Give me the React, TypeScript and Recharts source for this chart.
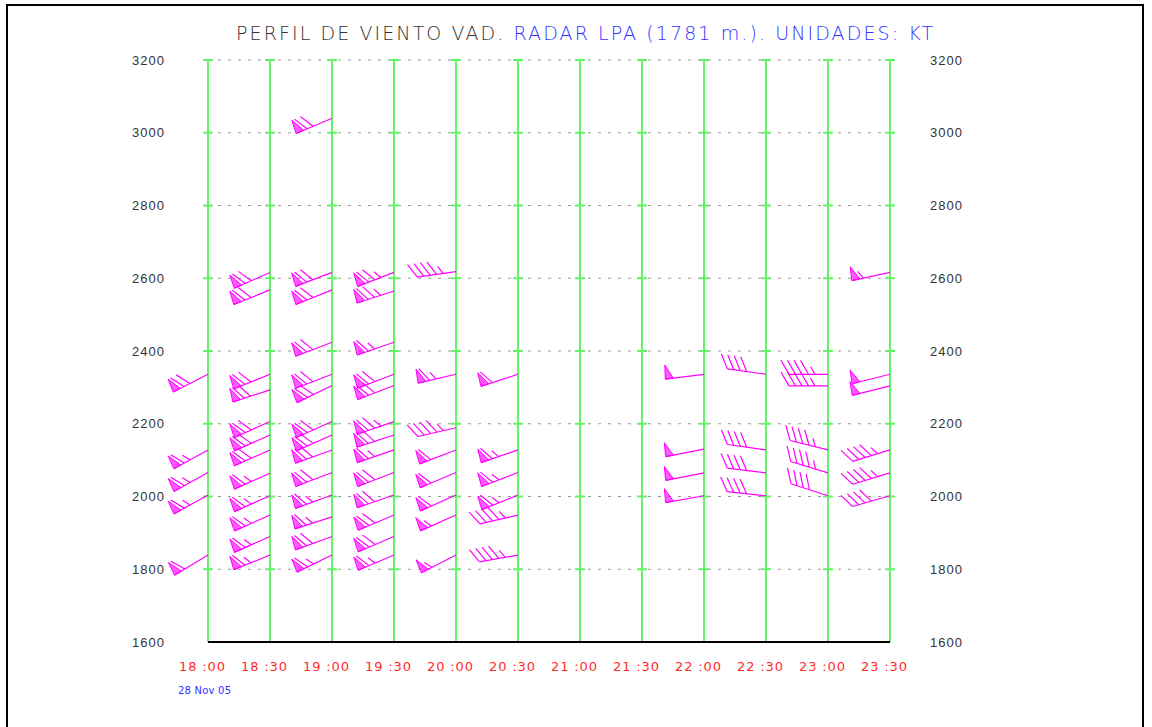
import React from "react";
import { ScatterChart, Scatter, XAxis, YAxis, CartesianGrid, ReferenceLine } from "recharts";

// time axis: one slot every 30 min
const TIME_LABELS = ["18 :00", "18 :30", "19 :00", "19 :30", "20 :00", "20 :30", "21 :00", "21 :30", "22 :00", "22 :30", "23 :00", "23 :30"];
const TIME_TICKS = TIME_LABELS.map((_, i) => i);
const HEIGHT_TICKS = [1600, 1800, 2000, 2200, 2400, 2600, 2800, 3000, 3200];

// [height m, direction deg, speed kt] for every VAD level, per time slot
const C1800 = [[2336, 243, 70], [2128, 241, 65], [2066, 241, 65], [2004, 241, 65], [1839, 239, 60]];
const C1830 = [[2616, 246, 70], [2568, 248, 70], [2336, 248, 70], [2293, 252, 70], [2206, 246, 70], [2169, 246, 70], [2128, 246, 70], [2064, 246, 65], [2002, 246, 65], [1949, 246, 65], [1890, 246, 65], [1839, 248, 65]];
const C1900 = [[3040, 247, 70], [2616, 249, 70], [2568, 248, 70], [2424, 249, 70], [2336, 249, 70], [2305, 244, 70], [2206, 246, 70], [2169, 246, 70], [2128, 250, 70], [2066, 249, 70], [2004, 250, 65], [1944, 252, 65], [1890, 250, 70], [1839, 244, 65]];
const C1930 = [[2616, 249, 75], [2565, 252, 75], [2424, 251, 65], [2336, 249, 70], [2305, 249, 70], [2206, 251, 75], [2169, 252, 70], [2128, 251, 65], [2066, 249, 70], [2004, 251, 70], [1949, 247, 70], [1890, 247, 70], [1839, 247, 65]];
const C2000 = [[2618, 262, 45], [2336, 257, 65], [2189, 257, 45], [2128, 249, 60], [2066, 247, 60], [2004, 246, 60], [1949, 246, 55], [1839, 243, 55]];
const C2030 = [[2336, 252, 60], [2128, 251, 65], [2066, 249, 65], [2004, 248, 65], [1949, 257, 45], [1839, 260, 45]];
const C2200 = [[2336, 263, 50], [2130, 259, 50], [2065, 259, 50], [2002, 260, 50]];
const C2230 = [[2336, 278, 40], [2128, 278, 40], [2065, 277, 40], [2002, 276, 40]];
const C2300 = [[2336, 270, 45], [2304, 270, 45], [2128, 284, 45], [2065, 287, 45], [2002, 288, 40]];
const C2330 = [[2616, 258, 55], [2336, 256, 50], [2304, 256, 50], [2128, 253, 45], [2065, 253, 45], [2002, 254, 40]];

const COLUMNS: [number, number[][]][] = [
  [0, C1800], [1, C1830], [2, C1900], [3, C1930], [4, C2000], [5, C2030],
  [8, C2200], [9, C2230], [10, C2300], [11, C2330],
];

const barbs = COLUMNS.flatMap(([t, rows]) => rows.map(([h, dir, spd]) => ({ t, h, dir, spd })));

const MAG = "#ff00ff";

function Barb(props: any) {
  const { cx, cy, payload } = props;
  if (cx == null || cy == null) return null;
  const rad = (payload.dir * Math.PI) / 180;
  const ux = Math.sin(rad);
  const uy = -Math.cos(rad);
  const L = 39;
  const rot = (deg: number) => {
    const a = (deg * Math.PI) / 180;
    return [ux * Math.cos(a) - uy * Math.sin(a), ux * Math.sin(a) + uy * Math.cos(a)];
  };
  const [fx, fy] = rot(60);
  const [px, py] = rot(95);
  const P = (s: number) => [cx + ux * s, cy + uy * s];
  const parts: React.ReactNode[] = [];
  const [tx, ty] = P(L);
  parts.push(<line key="staff" x1={cx} y1={cy} x2={tx} y2={ty} stroke={MAG} strokeWidth={1.2} />);
  let spd = payload.spd;
  let s = L;
  let k = 0;
  while (spd >= 50) {
    const [ax, ay] = P(s);
    const [bx, by] = P(s - 8);
    const pts = `${ax},${ay} ${ax + px * 14},${ay + py * 14} ${bx},${by}`;
    parts.push(<polygon key={"p" + k++} points={pts} fill={MAG} fillOpacity={0.65} stroke={MAG} strokeWidth={1} />);
    s -= 12;
    spd -= 50;
  }
  while (spd >= 10) {
    const [ax, ay] = P(s);
    parts.push(<line key={"f" + k++} x1={ax} y1={ay} x2={ax + fx * 16} y2={ay + fy * 16} stroke={MAG} strokeWidth={1.2} />);
    s -= 6.5;
    spd -= 10;
  }
  if (spd >= 5) {
    const [ax, ay] = P(s);
    parts.push(<line key={"h" + k++} x1={ax} y1={ay} x2={ax + fx * 9} y2={ay + fy * 9} stroke={MAG} strokeWidth={1.2} />);
  }
  return <g>{parts}</g>;
}

const XTick = (props: any) => {
  const { x, y, payload } = props;
  return (
    <text x={x - 6} y={y} dy="0.71em" textAnchor="middle" fill="#ff2a2a" fontSize={13}
      fontFamily="DejaVu Sans" textLength={46} lengthAdjust="spacing">
      {TIME_LABELS[payload.value]}
    </text>
  );
};

const tickStyle = { fill: "#333", fontSize: 13, fontFamily: "Liberation Sans", letterSpacing: 1 };

export default function App() {
  return (
    <div style={{ position: "absolute", left: 0, top: 0, width: 1152, height: 727, background: "#fff", overflow: "hidden" }}>
      <div style={{ position: "absolute", left: 6, top: 4, width: 1134, height: 740, border: "2px solid #000" }} />
      <div style={{ position: "absolute", left: 0, top: 0 }}>
        <ScatterChart width={1152} height={727} margin={{ top: 60, right: 0, bottom: 0, left: 0 }}>
          <CartesianGrid yAxisId="left" vertical={false} stroke="#999" strokeDasharray="3 7" />
          <CartesianGrid yAxisId="left" horizontal={false} stroke="#66f266" strokeWidth={2} />
          <XAxis dataKey="t" type="number" domain={[0, 11]} ticks={TIME_TICKS} interval={0}
            height={85} axisLine={{ stroke: "#000", strokeWidth: 2 }} tickLine={false}
            tickSize={12} tickMargin={8} tick={<XTick />} />
          <YAxis yAxisId="left" dataKey="h" type="number" domain={[1600, 3200]} ticks={HEIGHT_TICKS}
            width={208} axisLine={false} tickLine={false} tickSize={35} tickMargin={8} tick={tickStyle} />
          <YAxis yAxisId="right" orientation="right" dataKey="h" type="number" domain={[1600, 3200]}
            ticks={HEIGHT_TICKS} width={262} axisLine={false} tickLine={false} tickSize={32} tickMargin={8}
            tick={{ ...tickStyle, textAnchor: "start" }} />
          {TIME_TICKS.flatMap((t) =>
            HEIGHT_TICKS.slice(1).map((h) => (
              <ReferenceLine key={`g${t}-${h}`} yAxisId="left" ifOverflow="visible"
                segment={[{ x: t - 0.08, y: h }, { x: t + 0.08, y: h }]} stroke="#66f266" strokeWidth={2} />
            ))
          )}
          <Scatter yAxisId="right" data={barbs} shape={() => <g />} isAnimationActive={false} />
          <Scatter yAxisId="left" data={barbs} shape={<Barb />} isAnimationActive={false} />
        </ScatterChart>
      </div>
      <svg width={1152} height={727} style={{ position: "absolute", left: 0, top: 0, pointerEvents: "none" }}>
        <text x={236} y={40} fontFamily="DejaVu Sans" fontWeight={200} fontSize={19} textLength={697} lengthAdjust="spacing">
          <tspan fill="#333">PERFIL DE VIENTO VAD. </tspan>
          <tspan fill="#3333ff">RADAR  LPA  (1781 m.). UNIDADES:  KT</tspan>
        </text>
        <text x={178} y={694} fontFamily="DejaVu Sans" fontSize={10} fill="#3333ff" textLength={53} lengthAdjust="spacing">
          28 Nov 05
        </text>
      </svg>
    </div>
  );
}
